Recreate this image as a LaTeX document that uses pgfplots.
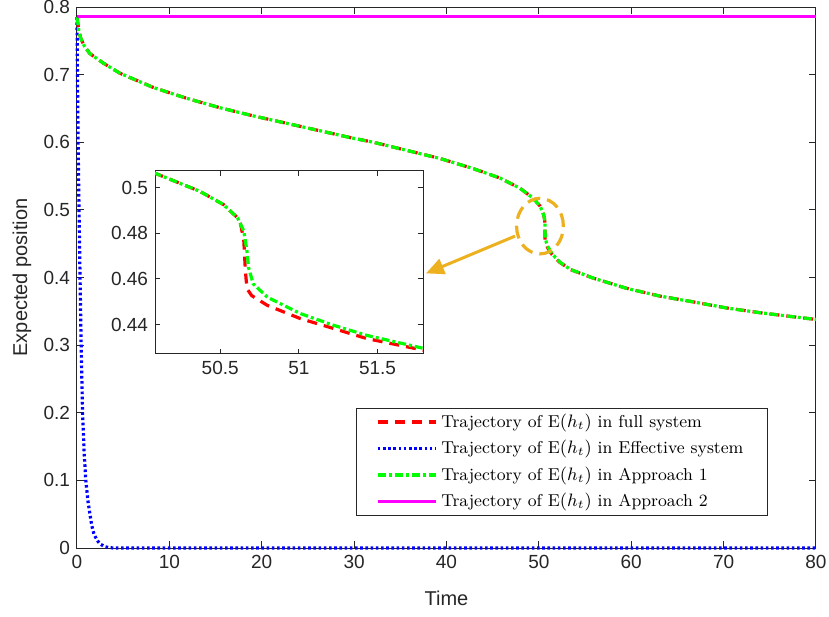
\documentclass[border=0pt]{standalone}
\usepackage{fontspec}
\usepackage{pgfplots}
\pgfplotsset{compat=1.18}
\usetikzlibrary{arrows.meta}
\newfontfamily\arial{Liberation Sans}

\definecolor{axgray}{rgb}{0.15,0.15,0.15}
\definecolor{annot}{rgb}{0.929,0.694,0.125}
\definecolor{pureRed}{rgb}{1,0,0}
\definecolor{pureBlue}{rgb}{0,0,1}
\definecolor{pureGreen}{rgb}{0,1,0}
\definecolor{pureMag}{rgb}{1,0,1}

% E(h_t), Approach 1
\pgfplotstableread{
t y
0 0.785
0.2 0.765
0.4 0.754
0.8 0.742
1.4 0.731
2.85 0.717
4.65 0.702
8.26 0.681
11.87 0.665
15.48 0.651
19.09 0.639
22.7 0.628
26.3 0.617
29.55 0.607
32.08 0.600
35.69 0.588
39.3 0.576
42.9 0.561
45.8 0.547
47.96 0.532
49.4 0.517
50.0 0.5076
50.086 0.5063
50.37 0.4984
50.52 0.4926
50.61 0.4868
50.65 0.481
50.67 0.4723
50.68 0.465
50.71 0.4578
50.80 0.452
51.01 0.4448
51.22 0.4397
51.43 0.4353
51.79 0.4296
52.3 0.4225
53.4 0.412
55.9 0.399
59.5 0.384
63.1 0.3725
66.7 0.364
70.3 0.355
73.9 0.348
77.5 0.342
80 0.338
}\appone

% E(h_t), full system
\pgfplotstableread{
t y
0 0.785
0.2 0.765
0.4 0.754
0.8 0.742
1.4 0.731
2.85 0.717
4.65 0.702
8.26 0.681
11.87 0.665
15.48 0.651
19.09 0.639
22.7 0.628
26.3 0.617
29.55 0.607
32.08 0.600
35.69 0.588
39.3 0.576
42.9 0.561
45.8 0.547
47.96 0.532
49.4 0.517
50.0 0.5076
50.086 0.5063
50.37 0.4984
50.52 0.4926
50.61 0.4868
50.63 0.484
50.65 0.4767
50.66 0.4636
50.67 0.4557
50.70 0.4527
50.80 0.4484
51.01 0.4426
51.22 0.4383
51.43 0.4339
51.79 0.4288
52.3 0.4220
53.4 0.4118
55.9 0.399
59.5 0.384
63.1 0.3725
66.7 0.364
70.3 0.355
73.9 0.348
77.5 0.342
80 0.338
}\fullsys

% E(h_t), effective system
\pgfplotstableread{
t y
0 0.785
0.05 0.70
0.12 0.60
0.22 0.50
0.33 0.40
0.45 0.30
0.6 0.20
0.78 0.14
0.95 0.10
1.2 0.068
1.4 0.05
1.6 0.033
1.85 0.02
2.2 0.011
2.5 0.006
3.0 0.002
3.5 0.0005
4 0
80 0
}\effsys

% E(h_t), Approach 2
\pgfplotstableread{
t y
0 0.7854
80 0.7854
}\apptwo

\pgfplotsset{
  matstyle/.style={
    scale only axis,
    axis line style={axgray, line width=0.5pt},
    every tick/.style={axgray, line width=0.5pt},
    tick align=inside,
    tick label style={font=\arial\fontsize{9.5}{11}\selectfont, text=axgray},
    /pgf/number format/assume math mode=true,
    label style={font=\arial\fontsize{10}{12}\selectfont, text=axgray},
  },
  redline/.style={pureRed, line width=1.6pt, dash pattern=on 5pt off 3.5pt},
  blueline/.style={pureBlue, line width=1.6pt, dash pattern=on 1.3pt off 1.3pt},
  greenline/.style={pureGreen, line width=1.6pt, dash pattern=on 4pt off 1.5pt on 1.5pt off 1.5pt},
  magline/.style={pureMag, line width=1.5pt},
}

\begin{document}
\begin{tikzpicture}
\begin{axis}[
  matstyle,
  at={(0pt,0pt)}, anchor=south west,
  width=369.5pt, height=270.5pt,
  xmin=0, xmax=80, ymin=0, ymax=0.8,
  xtick={0,10,...,80},
  ytick={0,0.1,0.2,0.3,0.4,0.5,0.6,0.7,0.8},
  major tick length=3.5pt,
  clip=false,
  xlabel={Time},
  ylabel={Expected position},
  xlabel style={at={(axis description cs:0.5,-0.1054)}, anchor=base},
  ylabel style={at={(axis description cs:-0.0744,0.5)}, anchor=center},
  legend cell align=left,
  legend image code/.code={\draw[#1] (0pt,0pt) -- (29pt,0pt);},
  legend style={
    at={(axis description cs:0.935,0.059)}, anchor=south east,
    draw=axgray, line width=0.5pt,
    font=\fontsize{8.6}{10.5}\selectfont,
    inner xsep=10pt, inner ysep=0.5pt,
    nodes={text height=7pt, text depth=2pt, inner sep=2pt},
    row sep=0.25pt,
  },
]
\addplot[redline] table[x=t, y=y] {\fullsys};
\addlegendentry{Trajectory of $\mathrm{E}(h_t)$ in full system}
\addplot[blueline] table[x=t, y=y] {\effsys};
\addlegendentry{Trajectory of $\mathrm{E}(h_t)$ in Effective system}
\addplot[greenline] table[x=t, y=y] {\appone};
\addlegendentry{Trajectory of $\mathrm{E}(h_t)$ in Approach 1}
\addplot[magline] table[x=t, y=y] {\apptwo};
\addlegendentry{Trajectory of $\mathrm{E}(h_t)$ in Approach 2}

% highlight of the jump and pointer to the zoomed view
\draw[annot, line width=1.6pt, dash pattern=on 6.5pt off 3.5pt]
  (axis cs:50.12,0.476) ellipse [x radius=11.7pt, y radius=13.9pt];
\draw[annot, line width=1.5pt, -{Triangle[length=9pt, width=8pt]}]
  (axis cs:47.42,0.4612) -- (axis cs:37.78,0.4061);
\end{axis}

% zoomed view around t = 51
\begin{axis}[
  matstyle,
  at={(39pt,97pt)}, anchor=south west,
  width=134pt, height=91.5pt,
  xmin=50.086, xmax=51.79, ymin=0.4271, ymax=0.5073,
  xtick={50.5,51,51.5},
  ytick={0.44,0.46,0.48,0.5},
  major tick length=2.5pt,
  axis background/.style={fill=white},
  /pgf/number format/.cd, fixed, precision=2,
]
\addplot[redline] table[x=t, y=y] {\fullsys};
\addplot[greenline] table[x=t, y=y] {\appone};
\end{axis}

\pgfresetboundingbox
\path[use as bounding box] (-38.5pt,-34pt) rectangle (376pt,274pt);
\end{tikzpicture}
\end{document}
